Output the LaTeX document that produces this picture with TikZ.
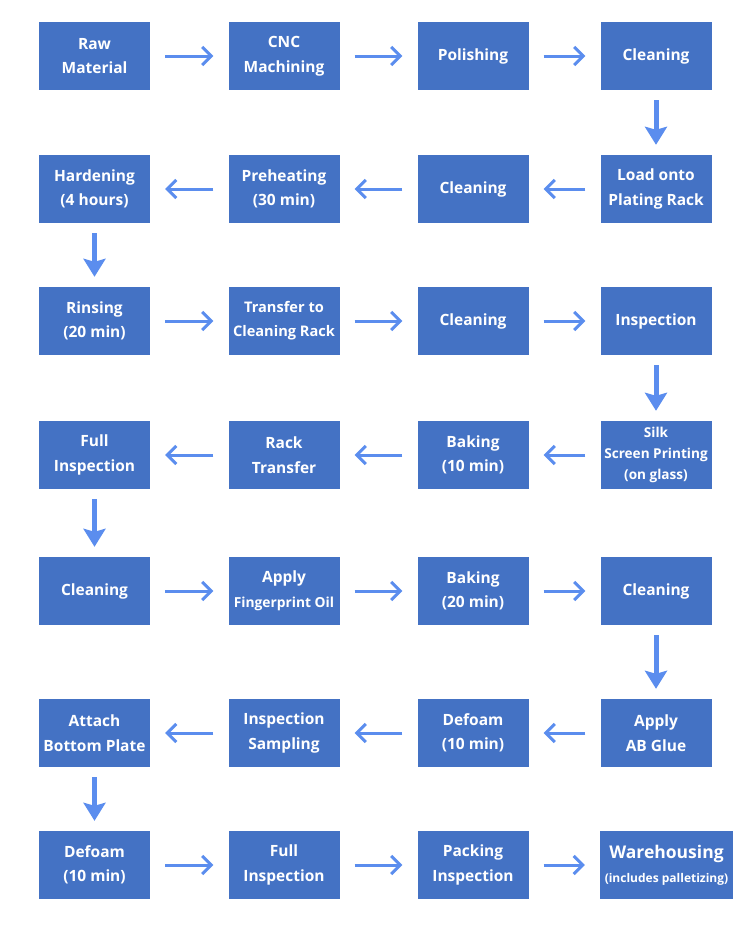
\documentclass[tikz,border=0pt]{standalone}
\usepackage{fontspec}
\setsansfont{Open Sans}
\usetikzlibrary{arrows.meta}
\definecolor{boxblue}{HTML}{4472C4}
\definecolor{arrowblue}{HTML}{5B8DEE}
\tikzset{
	proc/.style={rectangle,fill=boxblue,text=white,minimum width=111pt,minimum height=68pt,
		align=center,inner sep=2pt,font=\sffamily\bfseries\fontsize{15.5}{24.5}\selectfont},
	smallproc/.style={font=\sffamily\bfseries\fontsize{13.6}{21}\selectfont},
	harrow/.style={draw=arrowblue,line width=3pt,-{Straight Barb[length=9pt,width=18pt]},shorten <=15pt,shorten >=15pt},
	varrow/.style={draw=arrowblue,line width=5pt,-{Stealth[length=18pt,width=22pt,inset=3pt]},shorten <=10pt,shorten >=10pt}
}
\newcommand{\procbox}[4][]{\node[proc,#1] at (#2) (#3) {#4}}

\begin{document}
\begin{tikzpicture}[x=1pt,y=-1pt]
		\useasboundingbox (0,0) rectangle (750,926);
		% row 1
		\procbox{94.5,56}{raw}{Raw\\Material};
		\procbox{284,56}{cnc}{CNC\\Machining};
		\procbox{473,56}{polish}{Polishing};
		\procbox{656,56}{clean1}{Cleaning};
		% row 2
		\procbox{656,189}{load}{Load onto\\Plating Rack};
		\procbox{473,189}{clean2}{Cleaning};
		\procbox{284,189}{preheat}{Preheating\\(30 min)};
		\procbox{94.5,189}{harden}{Hardening\\(4 hours)};
		% row 3
		\procbox{94.5,321}{rinse}{Rinsing\\(20 min)};
		\procbox[font=\sffamily\bfseries\fontsize{14.6}{24}\selectfont]{284,321}{transfer}{Transfer to\\Cleaning Rack};
		\procbox{473,321}{clean3}{Cleaning};
		\procbox{656,321}{inspect}{Inspection};
		% row 4
		\procbox[smallproc]{656,455}{silk}{Silk\\Screen Printing\\(on glass)};
		\procbox{473,455}{bake1}{Baking\\(10 min)};
		\procbox{284,455}{rack}{Rack\\Transfer};
		\procbox{94.5,455}{fullinsp1}{Full\\Inspection};
		% row 5
		\procbox{94.5,591}{clean4}{Cleaning};
		\procbox{284,591}{oil}{Apply\\{\fontsize{13.8}{21}\selectfont Fingerprint Oil}};
		\procbox{473,591}{bake2}{Baking\\(20 min)};
		\procbox{656,591}{clean5}{Cleaning};
		% row 6
		\procbox{656,733}{glue}{Apply\\AB Glue};
		\procbox{473,733}{defoam1}{Defoam\\(10 min)};
		\procbox{284,733}{sampling}{Inspection\\Sampling};
		\procbox{94.5,733}{attach}{Attach\\Bottom Plate};
		% row 7
		\procbox{94.5,865}{defoam2}{Defoam\\(10 min)};
		\procbox{284,865}{fullinsp2}{Full\\Inspection};
		\procbox{473,865}{packing}{Packing\\Inspection};
		\procbox[minimum width=133pt,font=\sffamily\bfseries\fontsize{17.5}{24}\selectfont]{666.5,865}{warehouse}{Warehousing\\{\fontsize{12}{18}\selectfont(includes palletizing)}};

		\draw[harrow] (raw) -- (cnc);
		\draw[harrow] (cnc) -- (polish);
		\draw[harrow] (polish) -- (clean1);
		\draw[varrow] (clean1) -- (load);
		\draw[harrow] (load) -- (clean2);
		\draw[harrow] (clean2) -- (preheat);
		\draw[harrow] (preheat) -- (harden);
		\draw[varrow] (harden) -- (rinse);
		\draw[harrow] (rinse) -- (transfer);
		\draw[harrow] (transfer) -- (clean3);
		\draw[harrow] (clean3) -- (inspect);
		\draw[varrow] (inspect) -- (silk);
		\draw[harrow] (silk) -- (bake1);
		\draw[harrow] (bake1) -- (rack);
		\draw[harrow] (rack) -- (fullinsp1);
		\draw[varrow] (fullinsp1) -- (clean4);
		\draw[harrow] (clean4) -- (oil);
		\draw[harrow] (oil) -- (bake2);
		\draw[harrow] (bake2) -- (clean5);
		\draw[varrow] (clean5) -- (glue);
		\draw[harrow] (glue) -- (defoam1);
		\draw[harrow] (defoam1) -- (sampling);
		\draw[harrow] (sampling) -- (attach);
		\draw[varrow] (attach) -- (defoam2);
		\draw[harrow] (defoam2) -- (fullinsp2);
		\draw[harrow] (fullinsp2) -- (packing);
		\draw[harrow] (packing) -- (warehouse);
	\end{tikzpicture}
\end{document}
